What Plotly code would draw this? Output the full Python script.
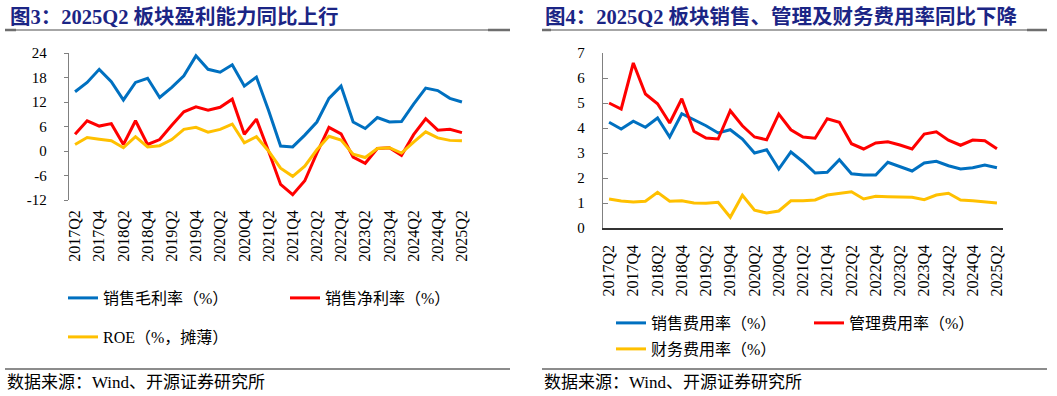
import plotly.graph_objects as go

W, H = 1057, 396

# ---------------- data ----------------
quarters = ["2017Q2", "2017Q3", "2017Q4", "2018Q1", "2018Q2", "2018Q3", "2018Q4", "2019Q1",
            "2019Q2", "2019Q3", "2019Q4", "2020Q1", "2020Q2", "2020Q3", "2020Q4", "2021Q1",
            "2021Q2", "2021Q3", "2021Q4", "2022Q1", "2022Q2", "2022Q3", "2022Q4", "2023Q1",
            "2023Q2", "2023Q3", "2023Q4", "2024Q1", "2024Q2", "2024Q3", "2024Q4", "2025Q1",
            "2025Q2"]
tick_labels = ["2017Q2", "2017Q4", "2018Q2", "2018Q4", "2019Q2", "2019Q4", "2020Q2", "2020Q4",
               "2021Q2", "2021Q4", "2022Q2", "2022Q4", "2023Q2", "2023Q4", "2024Q2", "2024Q4",
               "2025Q2"]

# Figure 3: profitability (%)
gross_margin = [14.5, 16.8, 20.0, 17.0, 12.5, 16.8, 17.8, 13.1, 15.6, 18.4, 23.3, 20.0, 19.3,
                21.1, 15.9, 18.1, 10.0, 1.2, 1.0, 3.9, 7.1, 12.9, 15.9, 7.1, 5.5, 8.2, 7.1,
                7.2, 11.5, 15.4, 14.8, 12.9, 12.0]
net_margin = [4.1, 7.4, 6.1, 6.7, 1.6, 7.4, 1.6, 2.8, 6.3, 9.6, 10.8, 10.0, 10.7, 12.7, 4.1,
              7.8, 0.0, -8.2, -10.7, -7.3, -0.5, 5.8, 4.2, -1.5, -3.0, 0.6, 0.8, -1.1, 4.0,
              7.9, 5.1, 5.3, 4.5]
roe = [1.6, 3.3, 2.9, 2.5, 0.8, 3.5, 1.0, 1.3, 2.8, 5.3, 5.8, 4.6, 5.3, 6.6, 2.0, 3.5, 0.0,
       -4.2, -6.2, -3.7, 0.3, 3.6, 2.7, -0.8, -1.6, 0.6, 0.8, -0.5, 2.2, 4.7, 3.2, 2.6, 2.5]

# Figure 4: expense ratios (%)
selling_exp = [4.23, 3.96, 4.27, 4.03, 4.40, 3.64, 4.57, 4.33, 4.09, 3.80, 3.93, 3.56, 3.00,
               3.13, 2.36, 3.04, 2.65, 2.20, 2.23, 2.73, 2.17, 2.12, 2.12, 2.63, 2.44, 2.28,
               2.60, 2.67, 2.49, 2.36, 2.41, 2.52, 2.41]
admin_exp = [5.00, 4.76, 6.60, 5.36, 4.97, 4.20, 5.17, 3.87, 3.60, 3.56, 4.69, 4.09, 3.64,
             3.53, 4.56, 3.93, 3.64, 3.59, 4.37, 4.23, 3.37, 3.16, 3.40, 3.45, 3.32, 3.16,
             3.76, 3.85, 3.51, 3.31, 3.52, 3.49, 3.17]
finance_exp = [1.16, 1.08, 1.04, 1.07, 1.43, 1.07, 1.09, 1.00, 0.99, 1.03, 0.43, 1.31, 0.71,
               0.60, 0.68, 1.09, 1.09, 1.12, 1.32, 1.39, 1.45, 1.16, 1.27, 1.25, 1.24, 1.23,
               1.13, 1.32, 1.39, 1.12, 1.09, 1.05, 1.00]

left_y_ticks = [-12, -6, 0, 6, 12, 18, 24]
left_y_text = ["-12", "-6", "0", "6", "12", "18", "24"]
right_y_ticks = [0, 1, 2, 3, 4, 5, 6, 7]
right_y_text = ["0", "1", "2", "3", "4", "5", "6", "7"]
year_bounds = [3.5, 7.5, 11.5, 15.5, 19.5, 23.5, 27.5, 31.5]

title_left = "图3：2025Q2 板块盈利能力同比上行"
title_right = "图4：2025Q2 板块销售、管理及财务费用率同比下降"
source_text = "数据来源：Wind、开源证券研究所"

# ---------------- style ----------------
BLUE, RED, YELLOW = "#0070C0", "#FF0000", "#FFC000"
NAVY = "#1B2585"
GRAY = "#808080"
SERIF = "Liberation Serif, Noto Sans CJK SC"
TITLE_FONT = "Liberation Serif, Noto Sans CJK SC"


def fx(px):
    return px / W


def fy(py):
    return 1 - py / H


L_X0, L_X1, L_YT, L_YB = 69, 468, 53, 200
R_X0, R_X1, R_YT, R_YB = 603, 1003, 53, 228
LY_MIN, LY_MAX = -12, 24
zero_pos = fy(L_YB) + (0 - LY_MIN) / (LY_MAX - LY_MIN) * (fy(L_YT) - fy(L_YB))

fig = go.Figure()

line_w = 3
fig.add_trace(go.Scatter(x=quarters, y=gross_margin, name="销售毛利率（%）", mode="lines",
                         line=dict(color=BLUE, width=line_w), xaxis="x", yaxis="y",
                         legend="legend"))
fig.add_trace(go.Scatter(x=quarters, y=net_margin, name="销售净利率（%）", mode="lines",
                         line=dict(color=RED, width=line_w), xaxis="x", yaxis="y",
                         legend="legend"))
fig.add_trace(go.Scatter(x=quarters, y=roe, name="ROE（%，摊薄）", mode="lines",
                         line=dict(color=YELLOW, width=line_w), xaxis="x", yaxis="y",
                         legend="legend2"))

fig.add_trace(go.Scatter(x=quarters, y=selling_exp, name="销售费用率（%）", mode="lines",
                         line=dict(color=BLUE, width=line_w), xaxis="x2", yaxis="y2",
                         legend="legend3"))
fig.add_trace(go.Scatter(x=quarters, y=admin_exp, name="管理费用率（%）", mode="lines",
                         line=dict(color=RED, width=line_w), xaxis="x2", yaxis="y2",
                         legend="legend3"))
fig.add_trace(go.Scatter(x=quarters, y=finance_exp, name="财务费用率（%）", mode="lines",
                         line=dict(color=YELLOW, width=line_w), xaxis="x2", yaxis="y2",
                         legend="legend4"))

tickfont = dict(family=SERIF, size=15, color="black")

xcat = dict(type="category", range=[-0.5, len(quarters) - 0.5], tickmode="array",
            tickvals=tick_labels, ticktext=tick_labels, tickangle=-90, ticks="",
            showgrid=False, zeroline=False, tickfont=dict(family=SERIF, size=16, color="black"),
            fixedrange=True, automargin=False)
xticks_only = dict(type="linear", range=[-0.5, len(quarters) - 0.5], tickmode="array",
                   tickvals=year_bounds, ticks="inside", ticklen=5, tickcolor=GRAY,
                   tickwidth=1, showticklabels=False, showgrid=False, zeroline=False,
                   automargin=False)

fig.update_layout(
    template="none",
    width=W, height=H, autosize=False,
    margin=dict(l=0, r=0, t=0, b=0, pad=0, autoexpand=False),
    paper_bgcolor="white", plot_bgcolor="rgba(0,0,0,0)",
    xaxis=dict(xcat, domain=[fx(L_X0), fx(L_X1)], anchor="y", showline=False,
               ticklabelstandoff=6),
    yaxis=dict(domain=[fy(L_YB), fy(L_YT)], anchor="x", range=[LY_MIN, LY_MAX],
               tickmode="array", tickvals=left_y_ticks, ticktext=left_y_text,
               ticks="outside", ticklen=4, tickcolor=GRAY, showline=True, linecolor=GRAY,
               linewidth=1.2, showgrid=False, zeroline=False, tickfont=tickfont,
               ticklabelstandoff=14, automargin=False),
    xaxis3=dict(xticks_only, overlaying="x", anchor="free", position=zero_pos,
                showline=True, linecolor=GRAY, linewidth=1.5),
    xaxis2=dict(xcat, domain=[fx(R_X0), fx(R_X1)], anchor="y2", showline=True,
                linecolor="#333333", linewidth=1.5, ticklabelstandoff=9),
    yaxis2=dict(domain=[fy(R_YB), fy(R_YT)], anchor="x2", range=[0, 7],
                tickmode="array", tickvals=right_y_ticks, ticktext=right_y_text,
                ticks="inside", ticklen=5, tickcolor=GRAY, showline=True, linecolor=GRAY,
                linewidth=1.2, showgrid=False, zeroline=False, tickfont=tickfont,
                ticklabelstandoff=14, automargin=False),
    xaxis4=dict(xticks_only, overlaying="x2", anchor="y2", showline=False),
    showlegend=True,
)

leg_common = dict(orientation="h", xanchor="left", yanchor="middle", bgcolor="rgba(0,0,0,0)",
                  font=dict(family=SERIF, size=16, color="black"), itemwidth=30,
                  entrywidthmode="pixels", borderwidth=0)
fig.update_layout(
    legend=dict(leg_common, x=fx(63), y=fy(298), entrywidth=177),
    legend2=dict(leg_common, x=fx(63), y=fy(337), entrywidth=177),
    legend3=dict(leg_common, x=fx(611), y=fy(323), entrywidth=153),
    legend4=dict(leg_common, x=fx(611), y=fy(349), entrywidth=153),
)

# titles and source notes
for x0, title in [(8, title_left), (543, title_right)]:
    fig.add_annotation(text="<b>" + title + "</b>", xref="paper", yref="paper", x=fx(x0),
                       y=fy(17), xanchor="left", yanchor="middle", showarrow=False,
                       font=dict(family=TITLE_FONT, size=20.5, color=NAVY))
for x0 in [5, 542]:
    fig.add_annotation(text=source_text, xref="paper", yref="paper", x=fx(x0), y=fy(382),
                       xanchor="left", yanchor="middle", showarrow=False,
                       font=dict(family=SERIF, size=17, color="black"))

# separator rules (title underline with darker end pieces, source overline)
for x0, x1 in [(5, 510), (542, 1047)]:
    fig.add_shape(type="line", xref="paper", yref="paper", x0=fx(x0), x1=fx(x1),
                  y0=fy(30), y1=fy(30), line=dict(color="#A6A6A6", width=2))
    fig.add_shape(type="line", xref="paper", yref="paper", x0=fx(x0), x1=fx(x1),
                  y0=fy(369), y1=fy(369), line=dict(color="#8C8C8C", width=2))
for x0, x1 in [(5, 16), (488, 510), (542, 551), (1027, 1047)]:
    fig.add_shape(type="line", xref="paper", yref="paper", x0=fx(x0), x1=fx(x1),
                  y0=fy(30), y1=fy(30), line=dict(color="#6E6E6E", width=2.5))

# remove the browser's default page margin so the figure fills the window exactly
fig.write_html("out.html",
               config={"displayModeBar": False, "staticPlot": True},
               post_script="document.body.style.margin='0';document.body.style.overflow='hidden';")
